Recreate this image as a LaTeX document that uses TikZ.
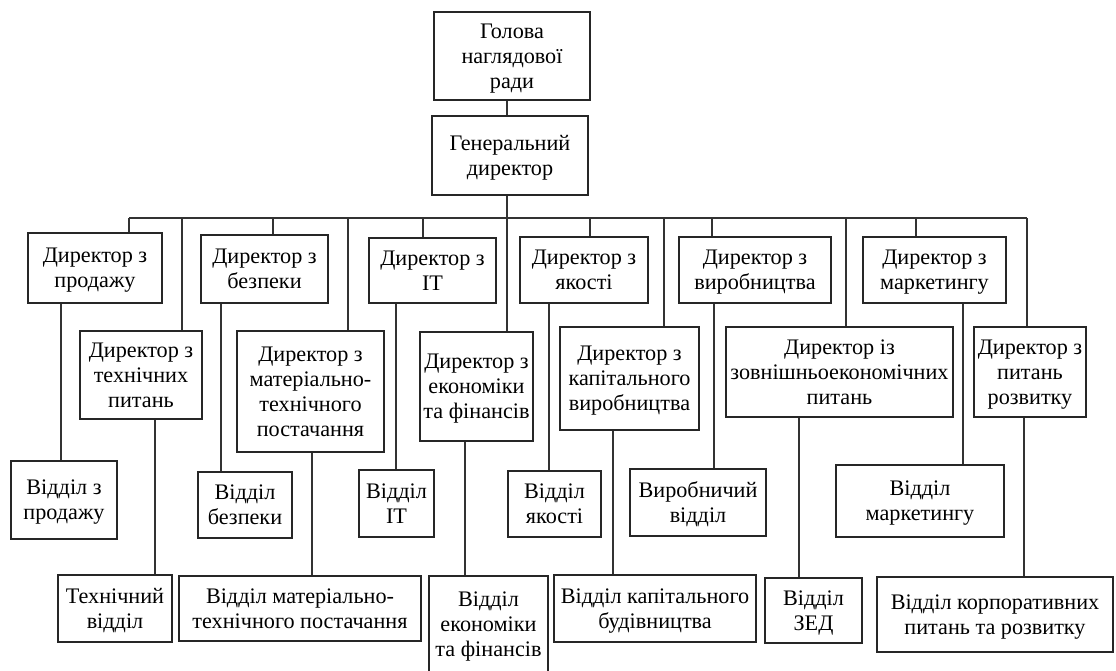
\documentclass[tikz,border=0pt]{standalone}
\usepackage{fontspec}
\setmainfont{Liberation Serif}
\usepackage{tikz}

\begin{document}
\begin{tikzpicture}[x=1pt,y=-1pt,
  box/.style={draw=black!85, line width=1.6pt, align=center, inner sep=0pt,
    font=\fontsize{22.2}{25}\selectfont, text depth=-7pt},
  link/.style={draw=black!80, line width=1.3pt}]
\useasboundingbox (0,0) rectangle (1116,670);
% top of the chart
\node[box, minimum width=156pt, minimum height=88pt] (head) at (512,56) {Голова\\наглядової\\ради};
\node[box, minimum width=156pt, minimum height=79pt] (gd) at (510,155.5) {Генеральний\\директор};
\coordinate (bus) at (0,218);
% directors, first row
\node[box, minimum width=134pt, minimum height=70pt] (dsales) at (95,268) {Директор з\\продажу};
\node[box, minimum width=127pt, minimum height=68pt] (dsec) at (264.5,269) {Директор з\\безпеки};
\node[box, minimum width=127pt, minimum height=65pt] (dit) at (432.5,270.5) {Директор з\\IT};
\node[box, minimum width=128pt, minimum height=66pt] (dqual) at (584,270) {Директор з\\якості};
\node[box, minimum width=152pt, minimum height=66pt] (dprod) at (755,270) {Директор з\\виробництва};
\node[box, minimum width=143pt, minimum height=66pt] (dmark) at (934.5,270) {Директор з\\маркетингу};
% directors, second row
\node[box, minimum width=122pt, minimum height=88pt] (dtech) at (141,375) {Директор з\\технічних\\питань};
\node[box, minimum width=147pt, minimum height=121pt] (dsup) at (310.5,391.5) {Директор з\\матеріально-\\технічного\\постачання};
\node[box, minimum width=113pt, minimum height=109pt] (decon) at (476.5,386.5) {Директор з\\економіки\\та фінансів};
\node[box, minimum width=139pt, minimum height=103pt] (dcap) at (629.5,378.5) {Директор з\\капітального\\виробництва};
\node[box, minimum width=227pt, minimum height=90pt] (dfor) at (839.5,372) {Директор із\\зовнішньоекономічних\\питань};
\node[box, minimum width=112pt, minimum height=90pt] (ddev) at (1030,372) {Директор з\\питань\\розвитку};
% departments
\node[box, minimum width=106pt, minimum height=78pt] (vsales) at (64,500) {Відділ з\\продажу};
\node[box, minimum width=94pt, minimum height=66pt] (vsec) at (245,505) {Відділ\\безпеки};
\node[box, minimum width=75pt, minimum height=67pt] (vit) at (396.5,503.5) {Відділ\\IT};
\node[box, minimum width=93pt, minimum height=66pt] (vqual) at (554.5,504) {Відділ\\якості};
\node[box, minimum width=136pt, minimum height=67pt] (vprod) at (698,502.5) {Виробничий\\відділ};
\node[box, minimum width=168pt, minimum height=72pt] (vmark) at (920,501) {Відділ\\маркетингу};
\node[box, minimum width=114pt, minimum height=67pt] (vtech) at (115,608.5) {Технічний\\відділ};
\node[box, minimum width=242pt, minimum height=65pt] (vsup) at (300,608.5) {Відділ матеріально-\\технічного постачання};
\node[box, minimum width=119pt, minimum height=96pt] (vecon) at (488.5,624) {Відділ\\економіки\\та фінансів};
\node[box, minimum width=202pt, minimum height=67pt] (vcap) at (655,608.5) {Відділ капітального\\будівництва};
\node[box, minimum width=97pt, minimum height=65pt] (vzed) at (813.5,610.5) {Відділ\\ЗЕД};
\node[box, minimum width=236pt, minimum height=75pt] (vcorp) at (995,614.5) {Відділ корпоративних\\питань та розвитку};
% connectors
\draw[link] (head.south -| 507,0) -- (gd.north -| 507,0);
\draw[link] (gd.south -| 507,0) -- (bus -| 507,0);
\draw[link] (bus -| 129,0) -- (bus -| 1027,0);
\foreach \x/\n in {129/dsales, 182/dtech, 273/dsec, 348/dsup, 423/dit, 507/decon,
    590/dqual, 664/dcap, 712/dprod, 846/dfor, 916/dmark, 1027/ddev}
  \draw[link] (bus -| \x,0) -- (\n.north -| \x,0);
\foreach \x/\a/\b in {61/dsales/vsales, 221/dsec/vsec, 396/dit/vit, 549/dqual/vqual,
    714/dprod/vprod, 963/dmark/vmark, 155/dtech/vtech, 312/dsup/vsup, 465/decon/vecon,
    613/dcap/vcap, 799/dfor/vzed, 1024/ddev/vcorp}
  \draw[link] (\a.south -| \x,0) -- (\b.north -| \x,0);
\end{tikzpicture}
\end{document}
